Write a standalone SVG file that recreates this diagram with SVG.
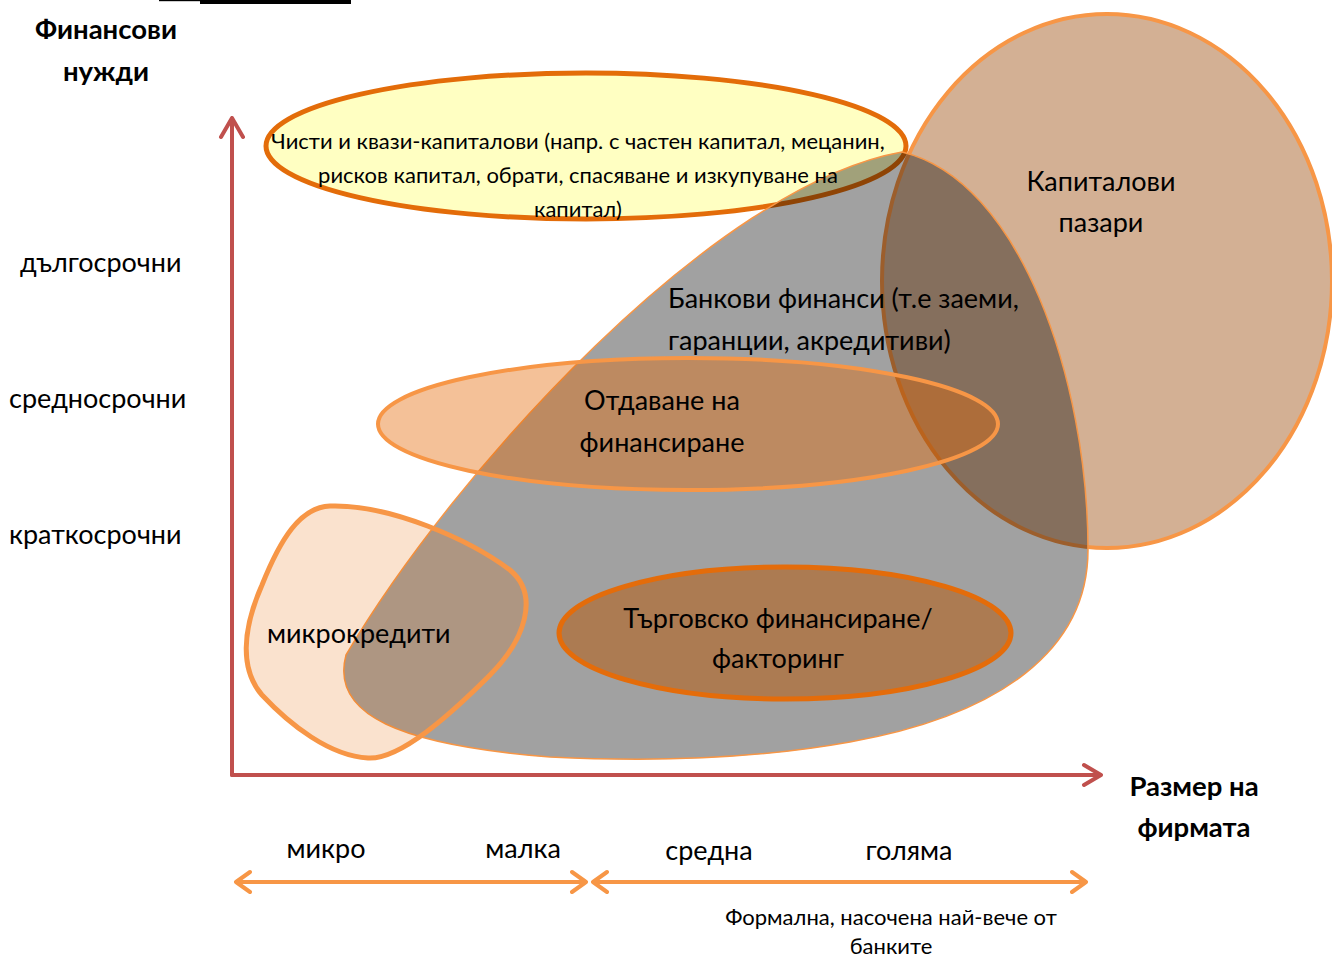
<svg xmlns="http://www.w3.org/2000/svg" width="1332" height="960" viewBox="0 0 1332 960">
<style>
text{font-family:Lato,"Open Sans","Noto Sans",sans-serif;fill:#000}
.t24{font-size:27px}
.t20{font-size:22px}
.t19{font-size:22px}
.b{font-weight:bold;font-size:27.5px}
.m{text-anchor:middle}
.axis{stroke:#C0504D;stroke-width:4;fill:none;stroke-linecap:round;stroke-linejoin:round}
.rng{stroke:#F79646;stroke-width:4;fill:none;stroke-linecap:round;stroke-linejoin:round}
</style>
<rect width="1332" height="960" fill="#fff"/>
<rect x="200" y="0" width="151" height="4" fill="#000"/>
<rect x="159" y="0" width="41" height="1.2" fill="#000"/>

<g id="capital-markets">
<ellipse cx="1107" cy="281" rx="225" ry="267" fill="#D3B094" stroke="#F79646" stroke-width="4"/>
</g>
<g id="equity">
<ellipse cx="586" cy="146" rx="320" ry="73" fill="#FFFFC2" stroke="#E36C09" stroke-width="5"/>
</g>
<g id="bank-finance">
<path d="M 902,152 C 1020,180 1088,380 1088,550 C 1088,650 1000,715 850,742 C 750,760 650,762 550,757 C 400,745 330,715 346,655 C 455,470 715,185 902,152 Z" fill="#000" fill-opacity="0.37" stroke="#F79646" stroke-width="1.5"/>
</g>
<g id="lending">
<ellipse cx="688" cy="424" rx="310" ry="66" fill="#E46C0A" fill-opacity="0.42" stroke="#F79646" stroke-width="4"/>
</g>
<g id="trade-finance">
<ellipse cx="785" cy="633" rx="226" ry="66" fill="#AC7B52" stroke="#E46C0A" stroke-width="5"/>
</g>
<g id="microcredit">
<path d="M 330,506 C 390,504 470,540 510,570 C 540,595 525,640 490,675 C 450,715 400,760 368,758 C 330,756 290,725 262,695 C 240,670 242,630 262,585 C 280,540 300,507 330,506 Z" fill="#E46C0A" fill-opacity="0.2" stroke="#F79646" stroke-width="5"/>
</g>

<g id="connectors">
<path class="axis" d="M 232,775 L 232,118 M 221,137 L 232,118 L 243,137"/>
<path class="axis" d="M 232,775 L 1101,775 M 1084,765 L 1101,775 L 1084,785"/>
<path class="rng" d="M 236,882 L 586,882 M 250,872 L 236,882 L 250,892 M 572,872 L 586,882 L 572,892"/>
<path class="rng" d="M 593,882 L 1086,882 M 607,872 L 593,882 L 607,892 M 1072,872 L 1086,882 L 1072,892"/>
</g>

<g id="labels">
<text class="b m" x="106" y="39">Финансови</text>
<text class="b m" x="106" y="81">нужди</text>
<text class="t24" x="20" y="272">дългосрочни</text>
<text class="t24" x="9" y="408">средносрочни</text>
<text class="t24" x="9" y="544">краткосрочни</text>
<text class="b m" x="1194" y="796">Размер на</text>
<text class="b m" x="1194" y="837">фирмата</text>
<text class="t24 m" x="326" y="858">микро</text>
<text class="t24 m" x="523" y="858">малка</text>
<text class="t24 m" x="709" y="860">средна</text>
<text class="t24 m" x="909" y="860">голяма</text>
<text class="t19 m" x="891" y="925">Формална, насочена най-вече от</text>
<text class="t19 m" x="891" y="954">банките</text>
</g>
<g id="node-text">
<text class="t20 m" x="578" y="149">Чисти и квази-капиталови (напр. с частен капитал, мецанин,</text>
<text class="t20 m" x="578" y="183">рисков капитал, обрати, спасяване и изкупуване на</text>
<text class="t20 m" x="578" y="217">капитал)</text>
<text class="t24 m" x="1101" y="191">Капиталови</text>
<text class="t24 m" x="1101" y="232">пазари</text>
<text class="t24" x="668" y="308">Банкови финанси (т.е заеми,</text>
<text class="t24" x="668" y="350">гаранции, акредитиви)</text>
<text class="t24 m" x="662" y="410">Отдаване на</text>
<text class="t24 m" x="662" y="452">финансиране</text>
<text class="t24 m" x="778" y="628">Търговско финансиране/</text>
<text class="t24 m" x="778" y="668">факторинг</text>
<text class="t24" x="267" y="643">микрокредити</text>
</g>
</svg>
